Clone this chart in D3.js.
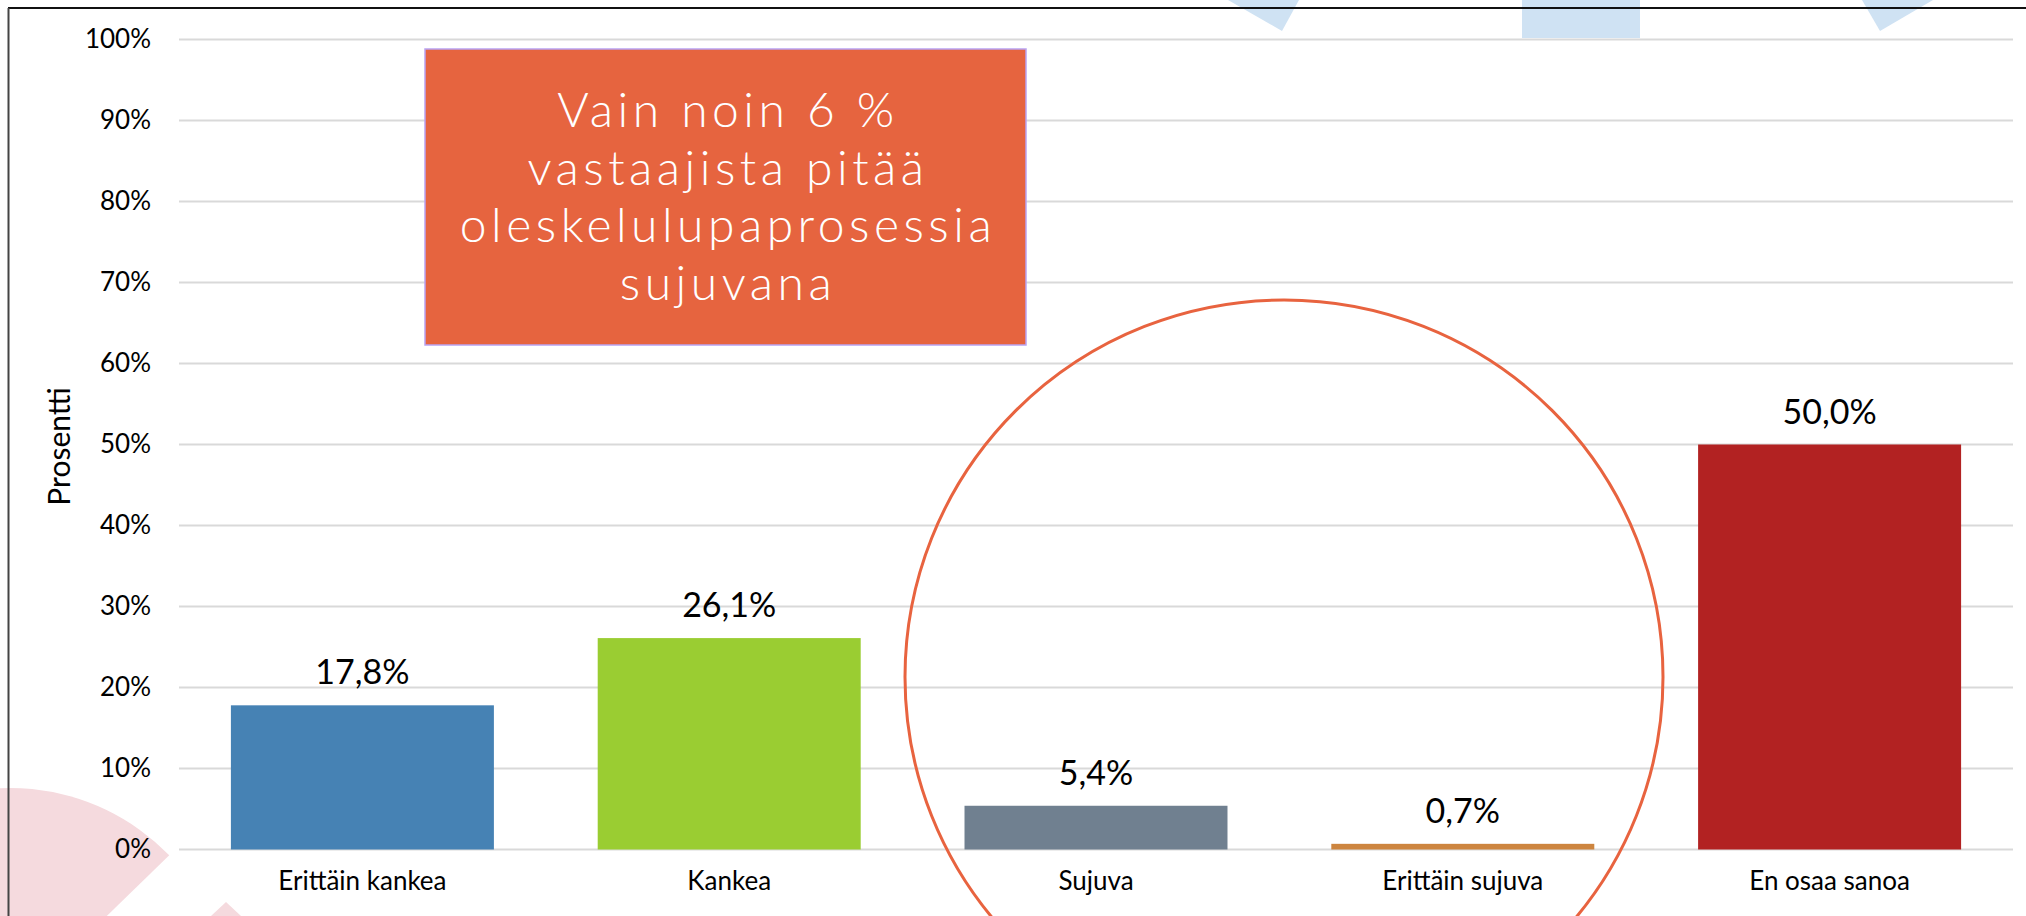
<!DOCTYPE html>
<html>
<head>
<meta charset="utf-8">
<script src="https://cdn.jsdelivr.net/npm/d3@7"></script>
<style>
  html, body { margin: 0; padding: 0; background: #fff; }
  svg { display: block; }
</style>
</head>
<body>
<svg id="chart"></svg>
<script>
const width = 2026;
const height = 916;

const categories = ["Erittäin kankea", "Kankea", "Sujuva", "Erittäin sujuva", "En osaa sanoa"];
const values = [17.8, 26.1, 5.4, 0.7, 50.0];
const barColors = ["#4682b4", "#9acd32", "#708090", "#cd853f", "#b22222"];
const yTicks = [0, 10, 20, 30, 40, 50, 60, 70, 80, 90, 100];
const yTitle = "Prosentti";
const noteLines = ["Vain noin 6 %", "vastaajista pitää", "oleskelulupaprosessia", "sujuvana"];

const margin = { top: 39.5, right: 13, bottom: 66.5, left: 179 };
const font = "Lato, 'Open Sans', sans-serif";
const fi = d3.formatLocale({ decimal: ",", thousands: " ", grouping: [3], currency: ["", " €"] });

const svg = d3.select("#chart").attr("width", width).attr("height", height);

// background decoration (slide shapes)
const deco = svg.append("g");
deco.append("path")
  .attr("transform", "translate(10,1010)")
  .attr("d", d3.arc()({ innerRadius: 0, outerRadius: 222, startAngle: -0.6, endAngle: 0.8 }))
  .attr("fill", "#f5dade");
deco.append("polygon")
  .attr("points", "211,916 226,902 241,916")
  .attr("fill", "#f5dade");
deco.append("polygon")
  .attr("points", "1228,0 1299,0 1282,31")
  .attr("fill", "#cfe2f3");
deco.append("rect")
  .attr("x", 1522).attr("y", 0).attr("width", 118).attr("height", 38)
  .attr("fill", "#cfe2f3");
deco.append("polygon")
  .attr("points", "1862,0 1933,0 1880,31")
  .attr("fill", "#cfe2f3");

// frame
svg.append("line").attr("x1", 8).attr("x2", width).attr("y1", 8).attr("y2", 8)
  .attr("stroke", "#111").attr("stroke-width", 2);
svg.append("line").attr("x1", 8.5).attr("x2", 8.5).attr("y1", 8).attr("y2", height)
  .attr("stroke", "#444").attr("stroke-width", 2);

const x = d3.scaleBand()
  .domain(categories)
  .range([margin.left, width - margin.right])
  .paddingInner(0.283)
  .paddingOuter(0.1415);

const y = d3.scaleLinear()
  .domain([0, 100])
  .range([height - margin.bottom, margin.top]);

// gridlines
svg.append("g")
  .selectAll("line")
  .data(yTicks)
  .join("line")
  .attr("x1", margin.left)
  .attr("x2", width - margin.right)
  .attr("y1", (d) => y(d))
  .attr("y2", (d) => y(d))
  .attr("stroke", "#d9d9d9")
  .attr("stroke-width", 2);

// y axis
const yAxis = svg.append("g")
  .attr("transform", `translate(${margin.left},0)`)
  .call(d3.axisLeft(y).tickValues(yTicks).tickFormat((d) => d + "%").tickSize(0).tickPadding(28));
yAxis.select(".domain").remove();
yAxis.selectAll("text")
  .attr("font-family", font)
  .attr("font-size", 26)
  .attr("fill", "#000");

svg.append("text")
  .attr("transform", `translate(70,${y(50) + 2}) rotate(-90)`)
  .attr("text-anchor", "middle")
  .attr("font-family", font)
  .attr("font-size", 30)
  .attr("fill", "#000")
  .text(yTitle);

// x axis
const xAxis = svg.append("g")
  .attr("transform", `translate(0,${y(0)})`)
  .call(d3.axisBottom(x).tickSize(0).tickPadding(22));
xAxis.select(".domain").remove();
xAxis.selectAll("text")
  .attr("font-family", font)
  .attr("font-size", 26)
  .attr("fill", "#000");

// bars
svg.append("g")
  .selectAll("rect")
  .data(values)
  .join("rect")
  .attr("x", (d, i) => x(categories[i]))
  .attr("y", (d) => y(d))
  .attr("width", x.bandwidth())
  .attr("height", (d) => y(0) - y(d))
  .attr("fill", (d, i) => barColors[i]);

// value labels
svg.append("g")
  .selectAll("text")
  .data(values)
  .join("text")
  .attr("x", (d, i) => x(categories[i]) + x.bandwidth() / 2)
  .attr("y", (d) => y(d) - 21)
  .attr("text-anchor", "middle")
  .attr("font-family", font)
  .attr("font-size", 34)
  .attr("fill", "#000")
  .text((d) => fi.format(".1f")(d) + "%");

// highlight circle
svg.append("ellipse")
  .attr("cx", 1284).attr("cy", 677).attr("rx", 379).attr("ry", 377)
  .attr("fill", "none")
  .attr("stroke", "#e8633f")
  .attr("stroke-width", 3);

// note box
const note = svg.append("g");
note.append("rect")
  .attr("x", 425).attr("y", 49).attr("width", 601).attr("height", 296)
  .attr("fill", "#e6643f")
  .attr("stroke", "#b9a3f2")
  .attr("stroke-width", 1.5);
note.append("text")
  .attr("text-anchor", "middle")
  .attr("font-family", font)
  .attr("font-weight", 300)
  .attr("font-size", 48)
  .attr("letter-spacing", 4.5)
  .attr("fill", "#fff")
  .selectAll("tspan")
  .data(noteLines)
  .join("tspan")
  .attr("x", 728)
  .attr("y", (d, i) => 127 + i * 57.5)
  .text((d) => d);
</script>
</body>
</html>
